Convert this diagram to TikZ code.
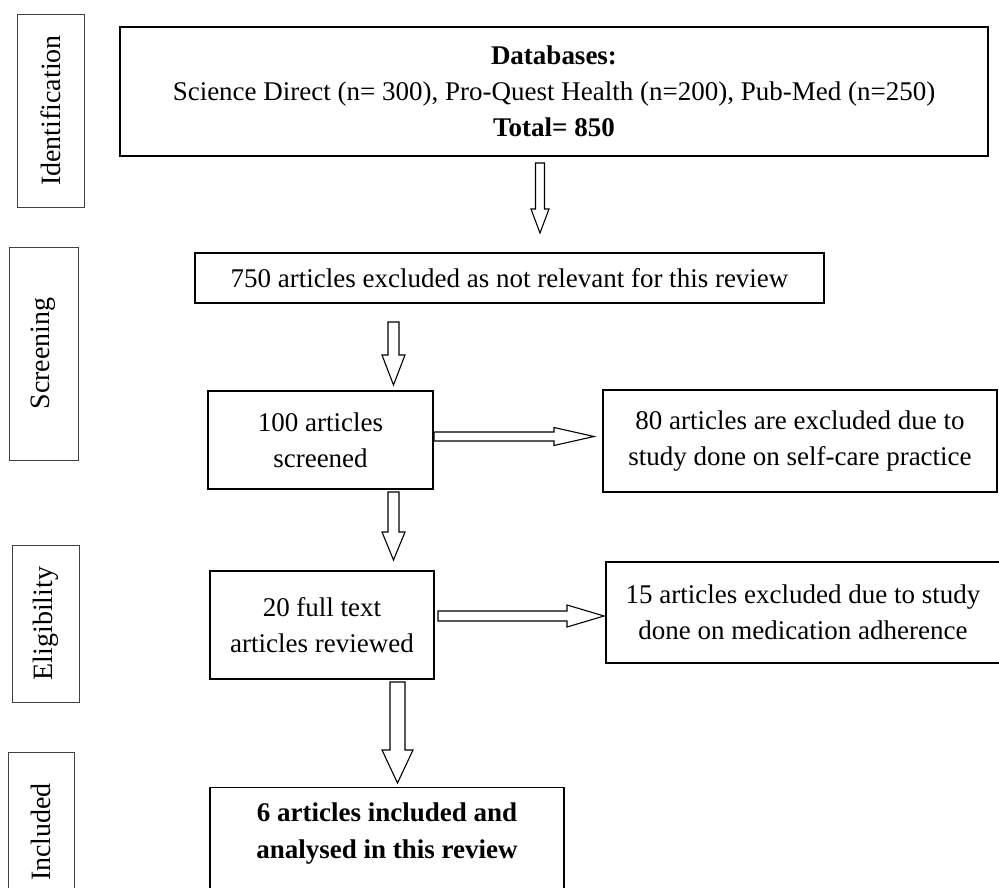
\documentclass[tikz,border=0pt]{standalone}
\usepackage{fontspec}
\setmainfont{Liberation Serif}
\usetikzlibrary{calc}
\newcommand\blkdown[5]{%
  \draw[blockarr] let \p1=(#1), \p2=(#2) in
    (\x1-#3,\y1) -- (\x1+#3,\y1) -- (\x1+#3,\y2+#5) -- (\x1+#4,\y2+#5) -- (\x1,\y2)
    -- (\x1-#4,\y2+#5) -- (\x1-#3,\y2+#5) -- cycle;}
\newcommand\blkright[5]{%
  \draw[blockarr] let \p1=(#1), \p2=(#2) in
    (\x1,\y1+#3) -- (\x2-#5,\y1+#3) -- (\x2-#5,\y1+#4) -- (\x2,\y1)
    -- (\x2-#5,\y1-#4) -- (\x2-#5,\y1-#3) -- (\x1,\y1-#3) -- cycle;}
\begin{document}
\begin{tikzpicture}[x=1pt,y=-1pt,
  box/.style={draw, line width=1.3pt, align=center, inner sep=0pt,
              font=\fontsize{27}{36}\selectfont},
  side/.style={draw=black!75, line width=0.9pt, inner sep=0pt, rotate=90,
              font=\fontsize{28}{30}\selectfont},
  blockarr/.style={draw, line width=1.1pt, fill=white, line join=miter}]
\useasboundingbox (0,0) rectangle (999,888);

% stage labels
\node[side, minimum width=193pt, minimum height=67pt] (sid) at (50.5,110.5) {Identification};
\node[side, minimum width=213pt, minimum height=69pt] (sscr) at (43.5,353.5) {Screening};
\node[side, minimum width=157pt, minimum height=67pt] (self) at (45.5,623.5) {Eligibility};
\node[side, minimum width=160pt, minimum height=66pt] (sinc) at (41,832) {Included};

% main boxes
\node[box, minimum width=868pt, minimum height=129pt] (db) at (554,91.5)
  {\textbf{Databases:}\\Science Direct (n= 300), Pro-Quest Health (n=200), Pub-Med (n=250)\\\textbf{Total= 850}};
\node[box, minimum width=629pt, minimum height=50pt] (scr) at (509.5,278)
  {750 articles excluded as not relevant for this review};
\node[box, minimum width=225pt, minimum height=98pt] (s100) at (320.5,440)
  {100 articles\\screened};
\node[box, minimum width=394pt, minimum height=102pt] (e80) at (800,441)
  {80 articles are excluded due to\\study done on self-care practice};
\node[box, minimum width=224pt, minimum height=108pt] (s20) at (322,625)
  {20 full text\\articles reviewed};
\node[box, minimum width=394pt, minimum height=101pt] (e15) at (803,612.5)
  {15 articles excluded due to study\\done on medication adherence};
\node[box, minimum width=354pt, minimum height=113pt, anchor=north] (inc) at (387,787) {};
\node[font=\fontsize{27}{37}\selectfont\bfseries, align=center] (inctext) at (387,833.5)
  {6 articles included and\\analysed in this review};

% block arrows
\coordinate (a1s) at (540,163);   \coordinate (a1e) at (540,233);
\coordinate (a2s) at (393.5,322); \coordinate (a2e) at (393.5,385);
\coordinate (a3s) at (393.5,492); \coordinate (a3e) at (393.5,560);
\coordinate (a5s) at (397.5,682); \coordinate (a5e) at (397.5,783);
\coordinate (h1s) at (434,436.5); \coordinate (h1e) at (594,436.5);
\coordinate (h2s) at (438,616);   \coordinate (h2e) at (604,616);
\blkdown{a1s}{a1e}{4.5pt}{9pt}{24pt}
\blkdown{a2s}{a2e}{5.5pt}{11.5pt}{30pt}
\blkdown{a3s}{a3e}{5.5pt}{11.5pt}{28pt}
\blkdown{a5s}{a5e}{7.5pt}{15.5pt}{33pt}
\blkright{h1s}{h1e}{4.5pt}{9pt}{40pt}
\blkright{h2s}{h2e}{5pt}{11pt}{37pt}
\end{tikzpicture}
\end{document}
